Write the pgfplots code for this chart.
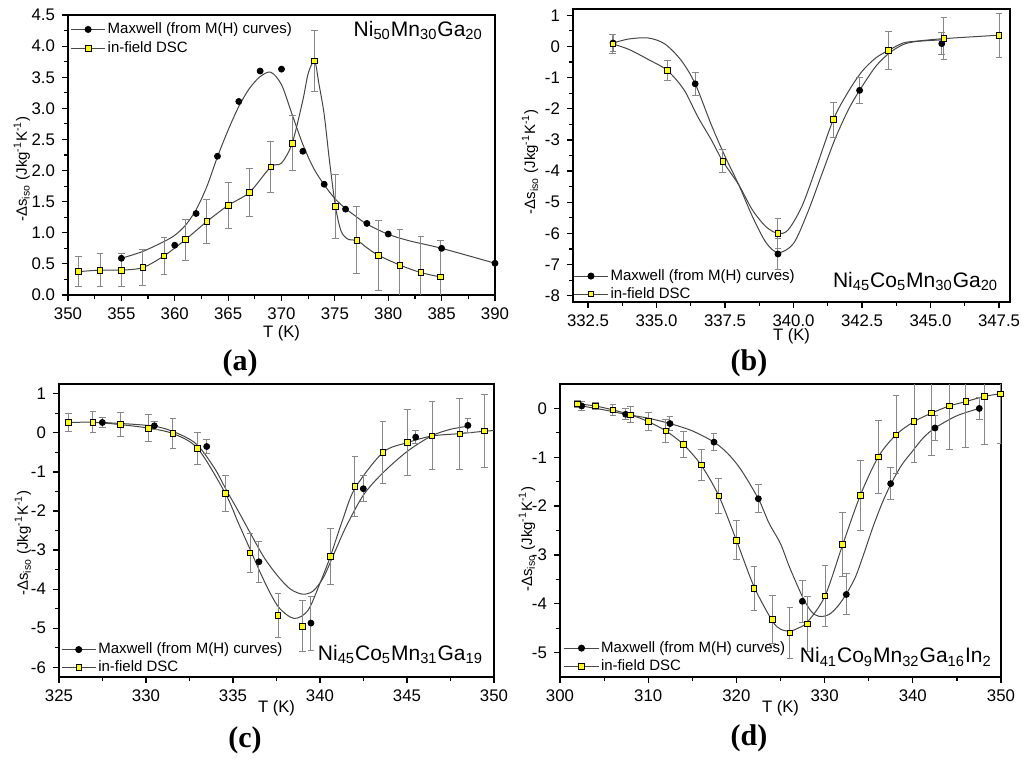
\documentclass[border=0pt]{standalone}
\usepackage{fontspec}
\setmainfont{Liberation Sans}
\newfontfamily\serifb{Liberation Serif}
\usepackage{pgfplots}
\pgfplotsset{compat=1.18}
\definecolor{curvec}{RGB}{70,70,70}
\definecolor{ebar}{RGB}{135,135,135}
\definecolor{yel}{RGB}{255,255,0}
\newcommand{\legfont}{\fontsize{7.5}{9}\selectfont}
\pgfplotsset{
  panel/.style={
    scale only axis, clip=true,
    axis line style={line width=0.8pt},
    tick align=outside, tick pos=left,
    major tick length=3pt, minor tick length=1.8pt, minor tick num=1,
    every tick/.style={black, line width=0.6pt},
    /pgf/number format/assume math mode=true,
    tick label style={font=\fontsize{8.4}{9}\selectfont},
    xlabel style={font=\fontsize{8.3}{9}\selectfont},
    ylabel style={font=\fontsize{7.5}{9}\selectfont},
    xlabel={T (K)},
    ylabel={-Δs\textsubscript{iso} (Jkg\textsuperscript{-1}K\textsuperscript{-1})},
    legend cell align=left,
    legend style={draw=none, fill=none, inner sep=0pt, font=\legfont,
      nodes={inner sep=1pt, text height=5.5pt, text depth=1.5pt}},
  },
  curveline/.style={color=curvec, line width=0.5pt, smooth, no markers, forget plot},
  maxnoerr/.style={only marks, mark=*, mark size=1.5pt, mark options={draw=black, fill=black}, forget plot},
  maxw/.style={only marks, mark=*, mark size=1.5pt, mark options={draw=black, fill=black}, forget plot,
    error bars/.cd, y dir=both, y explicit,
    error bar style={color=ebar, line width=0.5pt},
    error mark options={color=ebar, rotate=90, mark size=1.7pt, line width=0.5pt}},
  dsc/.style={only marks, mark=square*, mark size=1.4pt, mark options={draw=black, fill=yel, line width=0.4pt}, forget plot,
    error bars/.cd, y dir=both, y explicit,
    error bar style={color=ebar, line width=0.5pt},
    error mark options={color=ebar, rotate=90, mark size=1.7pt, line width=0.5pt}},
}
\newcommand{\mylegend}{%
  \addlegendimage{color=curvec, line width=0.5pt, mark=*, mark size=1.5pt, mark options={draw=black, fill=black}}
  \addlegendentry{\legfont Maxwell (from M(H) curves)}
  \addlegendimage{color=curvec, line width=0.5pt, mark=square*, mark size=1.4pt, mark options={draw=black, fill=yel, line width=0.4pt}}
  \addlegendentry{\legfont in-field DSC}
}
\newcommand{\alloyfont}{\fontsize{10.5}{12}\selectfont}
\begin{document}
\begin{tikzpicture}
\useasboundingbox (0,0) rectangle (512pt,380.5pt);

% ---------------- (a)
\begin{axis}[panel, at={(34pt,233pt)}, anchor=south west, width=213.5pt, height=140pt,
  xmin=350, xmax=390, ymin=0, ymax=4.5,
  xtick={350,355,...,390}, ytick={0,0.5,...,4.5},
  yticklabel style={/pgf/number format/.cd, fixed, fixed zerofill, precision=1},
  xlabel style={at={(axis description cs:0.5,-0.136)}, anchor=center},
  ylabel style={at={(axis description cs:-0.108,0.45)}, anchor=center},
  legend style={at={(axis description cs:0.005,0.982)}, anchor=north west, row sep=0.5pt}]
\mylegend
\addplot[curveline] coordinates {(355,0.59) (357,0.70) (359,0.86) (360,0.96) (361,1.12) (362,1.37) (363,1.74) (364,2.22) (365,2.65) (366,3.03) (367,3.32) (368,3.51) (369,3.58) (370,3.38) (371,2.90) (372,2.42) (373,2.04) (374,1.77) (375,1.55) (376,1.39) (377,1.26) (378,1.14) (380,0.975) (382,0.87) (385,0.75) (390,0.51)};
\addplot[curveline] coordinates {(351,0.375) (353,0.40) (355,0.40) (357,0.44) (359,0.63) (361,0.89) (363,1.18) (365,1.44) (367,1.65) (369,2.06) (370,2.12) (371,2.44) (372,3.13) (372.5,3.56) (373.1,3.76) (373.5,3.40) (374,2.90) (374.5,2.15) (375.06,1.42) (375.6,1.02) (376.3,0.89) (377.06,0.88) (378,0.76) (379.06,0.64) (381.1,0.48) (383.06,0.36) (384.9,0.29)};
\addplot[maxnoerr] coordinates {(355,0.59) (360,0.80) (362,1.31) (364,2.23) (366,3.11) (368,3.60) (370,3.63) (372,2.31) (374,1.78) (376,1.38) (378,1.15) (380,0.98) (385,0.75) (390,0.51)};
\addplot[dsc] coordinates {(351,0.375) +- (0,0.245) (353,0.40) +- (0,0.26) (355,0.40) +- (0,0.27) (357,0.44) +- (0,0.29) (359,0.63) +- (0,0.30) (361,0.89) +- (0,0.33) (363,1.18) +- (0,0.35) (365,1.44) +- (0,0.37) (367,1.65) +- (0,0.39) (369,2.06) +- (0,0.41) (371,2.44) +- (0,0.44) (373.1,3.76) +- (0,0.49) (375.06,1.42) +- (0,0.52) (377.06,0.88) +- (0,0.54) (379.06,0.64) +- (0,0.56) (381.1,0.48) +- (0,0.58) (383.06,0.36) +- (0,0.58) (384.9,0.29) +- (0,0.59)};
\node[anchor=base east, font=\alloyfont] at (rel axis cs:0.988,0.925) {Ni\textsubscript{50}Mn\textsubscript{30}Ga\textsubscript{20}};
\end{axis}

% ---------------- (b)
\begin{axis}[panel, at={(286.5pt,229.5pt)}, anchor=south west, width=218.5pt, height=146.5pt,
  xmin=331.95, xmax=347.9, ymin=-8.2, ymax=1.2,
  xtick={332.5,335,...,347.5}, ytick={-8,-7,...,1},
  xticklabel style={/pgf/number format/.cd, fixed, fixed zerofill, precision=1},
  xlabel style={at={(axis description cs:0.5,-0.117)}, anchor=center},
  ylabel style={at={(axis description cs:-0.098,0.478)}, anchor=center},
  legend style={at={(axis description cs:0.0,-0.005)}, anchor=south west}]
\mylegend
\addplot[curveline] coordinates {(333.41,0.11) (334,0.24) (334.7,0.27) (335.3,0.08) (335.9,-0.45) (336.41,-1.20) (337,-2.52) (337.5,-3.53) (338,-4.44) (338.5,-5.46) (339,-6.3) (339.45,-6.62) (340,-6.32) (340.5,-5.36) (341,-4.18) (341.5,-3.0) (342,-2.03) (342.41,-1.41) (343,-0.64) (343.5,-0.21) (344,0.06) (344.5,0.16) (345.41,0.21)};
\addplot[curveline] coordinates {(333.4,0.08) (334,-0.10) (334.7,-0.42) (335.39,-0.77) (336,-1.39) (336.5,-2.25) (337,-3.0) (337.42,-3.69) (338,-4.44) (338.5,-5.25) (339,-5.79) (339.43,-6.0) (339.8,-5.89) (340.3,-5.14) (340.8,-3.96) (341.45,-2.35) (342,-1.45) (342.5,-0.80) (343,-0.37) (343.46,-0.13) (344,0.11) (344.5,0.17) (345.49,0.25) (347.5,0.36)};
\addplot[maxw] coordinates {(333.41,0.11) +- (0,0.28) (336.41,-1.20) +- (0,0.37) (339.43,-6.66) +- (0,0.5) (342.41,-1.41) +- (0,0.42) (345.41,0.09) +- (0,0.35)};
\addplot[dsc] coordinates {(333.4,0.08) +- (0,0.3) (335.39,-0.77) +- (0,0.32) (337.42,-3.69) +- (0,0.37) (339.43,-6.0) +- (0,0.48) (341.45,-2.35) +- (0,0.56) (343.46,-0.13) +- (0,0.62) (345.49,0.25) +- (0,0.67) (347.5,0.36) +- (0,0.71)};
\node[anchor=base east, font=\alloyfont] at (rel axis cs:0.989,0.051) {Ni\textsubscript{45}Co\textsubscript{5}Mn\textsubscript{30}Ga\textsubscript{20}};
\end{axis}

% ---------------- (c)
\begin{axis}[panel, at={(29.5pt,42pt)}, anchor=south west, width=217.5pt, height=146.5pt,
  xmin=325, xmax=350, ymin=-6.25, ymax=1.25,
  xtick={325,330,...,350}, ytick={-6,-5,...,1},
  xlabel style={at={(axis description cs:0.5,-0.108)}, anchor=center},
  ylabel style={at={(axis description cs:-0.083,0.457)}, anchor=center},
  legend style={at={(axis description cs:0.004,0.0)}, anchor=south west}]
\mylegend
\addplot[curveline] coordinates {(327.49,0.265) (330.48,0.17) (332,-0.05) (333,-0.33) (334,-0.95) (334.6,-1.45) (335.3,-2.0) (336,-2.57) (336.8,-3.2) (337.6,-3.68) (338.3,-4.0) (339,-4.13) (339.6,-4.05) (340.2,-3.7) (340.8,-3.1) (341.5,-2.4) (342.5,-1.59) (343.6,-1.03) (345,-0.48) (346.4,-0.08) (347.5,0.09) (348.5,0.17)};
\addplot[curveline] coordinates {(325.54,0.265) (326.95,0.27) (328.54,0.21) (330.15,0.12) (331.55,-0.02) (332.97,-0.40) (334.56,-1.55) (335.3,-2.3) (336,-3.0) (336.8,-3.8) (337.6,-4.45) (338.5,-4.75) (339.3,-4.55) (340,-3.85) (340.59,-3.17) (341.3,-2.23) (342.01,-1.42) (343.62,-0.50) (345.02,-0.25) (346.44,-0.08) (348.03,-0.02) (349.44,0.04) (350,0.06)};
\addplot[maxw] coordinates {(327.49,0.265) +- (0,0.12) (330.48,0.18) +- (0,0.1) (333.49,-0.35) +- (0,0.18) (336.49,-3.30) +- (0,0.52) (339.48,-4.87) +- (0,0.69) (342.49,-1.43) +- (0,0.33) (345.5,-0.11) +- (0,0.17) (348.5,0.19) +- (0,0.17)};
\addplot[dsc] coordinates {(325.54,0.265) +- (0,0.24) (326.95,0.27) +- (0,0.27) (328.54,0.21) +- (0,0.30) (330.15,0.12) +- (0,0.35) (331.55,-0.02) +- (0,0.375) (332.97,-0.40) +- (0,0.41) (334.56,-1.55) +- (0,0.455) (335.98,-3.07) +- (0,0.50) (337.59,-4.67) +- (0,0.57) (338.99,-4.95) +- (0,0.65) (340.59,-3.17) +- (0,0.71) (342.01,-1.37) +- (0,0.76) (343.62,-0.50) +- (0,0.80) (345.02,-0.25) +- (0,0.85) (346.44,-0.08) +- (0,0.87) (348.03,-0.03) +- (0,0.90) (349.44,0.05) +- (0,0.93)};
\node[anchor=base east, font=\alloyfont] at (rel axis cs:0.991,0.058) {Ni\textsubscript{45}Co\textsubscript{5}Mn\textsubscript{31}Ga\textsubscript{19}};
\end{axis}

% ---------------- (d)
\begin{axis}[panel, at={(280pt,42pt)}, anchor=south west, width=220.5pt, height=146.5pt,
  xmin=300, xmax=350, ymin=-5.5, ymax=0.5,
  xtick={300,310,...,350}, ytick={-5,-4,...,0},
  xlabel style={at={(axis description cs:0.5,-0.108)}, anchor=center},
  ylabel style={at={(axis description cs:-0.075,0.471)}, anchor=center},
  legend style={at={(axis description cs:0.008,0.005)}, anchor=south west}]
\mylegend
\addplot[curveline] coordinates {(302.46,0.05) (305,-0.03) (307.45,-0.12) (310,-0.20) (312.47,-0.31) (315,-0.46) (317.46,-0.69) (319,-0.92) (320.5,-1.25) (322.49,-1.85) (323.7,-2.35) (325,-2.77) (326,-3.24) (327.5,-3.86) (328.5,-4.16) (329.4,-4.26) (330.5,-4.22) (331.5,-4.05) (332.46,-3.80) (333.5,-3.45) (334.5,-2.95) (335.5,-2.42) (336.5,-1.95) (337.49,-1.56) (338.7,-1.17) (339.9,-0.89) (341.2,-0.60) (342.52,-0.40) (345,-0.15) (347.54,0.0)};
\addplot[curveline] coordinates {(301.97,0.095) (304,0.05) (306,-0.03) (308,-0.13) (310,-0.27) (312,-0.46) (314,-0.74) (316,-1.16) (318,-1.79) (320,-2.70) (322,-3.65) (324.07,-4.35) (325,-4.52) (326.07,-4.56) (327,-4.50) (328.08,-4.37) (330.05,-3.84) (332.05,-2.79) (334.05,-1.78) (336.09,-0.99) (338.1,-0.54) (340.14,-0.27) (342.14,-0.095) (344.14,0.05) (346,0.14) (348.11,0.245) (349.92,0.30)};
\addplot[maxw] coordinates {(302.46,0.05) +- (0,0.1) (307.45,-0.12) +- (0,0.11) (312.47,-0.31) +- (0,0.14) (317.46,-0.69) +- (0,0.18) (322.49,-1.85) +- (0,0.29) (327.48,-3.95) +- (0,0.43) (332.46,-3.81) +- (0,0.42) (337.49,-1.54) +- (0,0.32) (342.52,-0.40) +- (0,0.25) (347.54,0.0) +- (0,0.23)};
\addplot[dsc] coordinates {(301.97,0.095) +- (0,0.07) (304,0.05) +- (0,0.07) (306,-0.03) +- (0,0.12) (308,-0.13) +- (0,0.16) (310,-0.27) +- (0,0.18) (312,-0.46) +- (0,0.23) (314,-0.74) +- (0,0.27) (316,-1.16) +- (0,0.31) (318,-1.79) +- (0,0.36) (320,-2.70) +- (0,0.40) (322,-3.69) +- (0,0.45) (324.07,-4.32) +- (0,0.49) (326.07,-4.60) +- (0,0.53) (328.08,-4.41) +- (0,0.56) (330.05,-3.84) +- (0,0.62) (332.05,-2.79) +- (0,0.66) (334.05,-1.78) +- (0,0.71) (336.09,-0.99) +- (0,0.75) (338.1,-0.54) +- (0,0.80) (340.14,-0.27) +- (0,0.83) (342.14,-0.095) +- (0,0.87) (344.14,0.05) +- (0,0.90) (346,0.14) +- (0,0.93) (348.11,0.245) +- (0,0.98) (349.92,0.30) +- (0,1.02)};
\node[anchor=base east, font=\alloyfont] at (rel axis cs:0.995,0.048) {Ni\textsubscript{41}Co\textsubscript{9}Mn\textsubscript{32}Ga\textsubscript{16}In\textsubscript{2}};
\end{axis}

\node[font=\serifb\bfseries\fontsize{15}{18}\selectfont] at (120pt,199pt) {(a)};
\node[font=\serifb\bfseries\fontsize{15}{18}\selectfont] at (374.5pt,199pt) {(b)};
\node[font=\serifb\bfseries\fontsize{15}{18}\selectfont] at (122.5pt,10.5pt) {(c)};
\node[font=\serifb\bfseries\fontsize{15}{18}\selectfont] at (374.5pt,11.5pt) {(d)};
\end{tikzpicture}
\end{document}
